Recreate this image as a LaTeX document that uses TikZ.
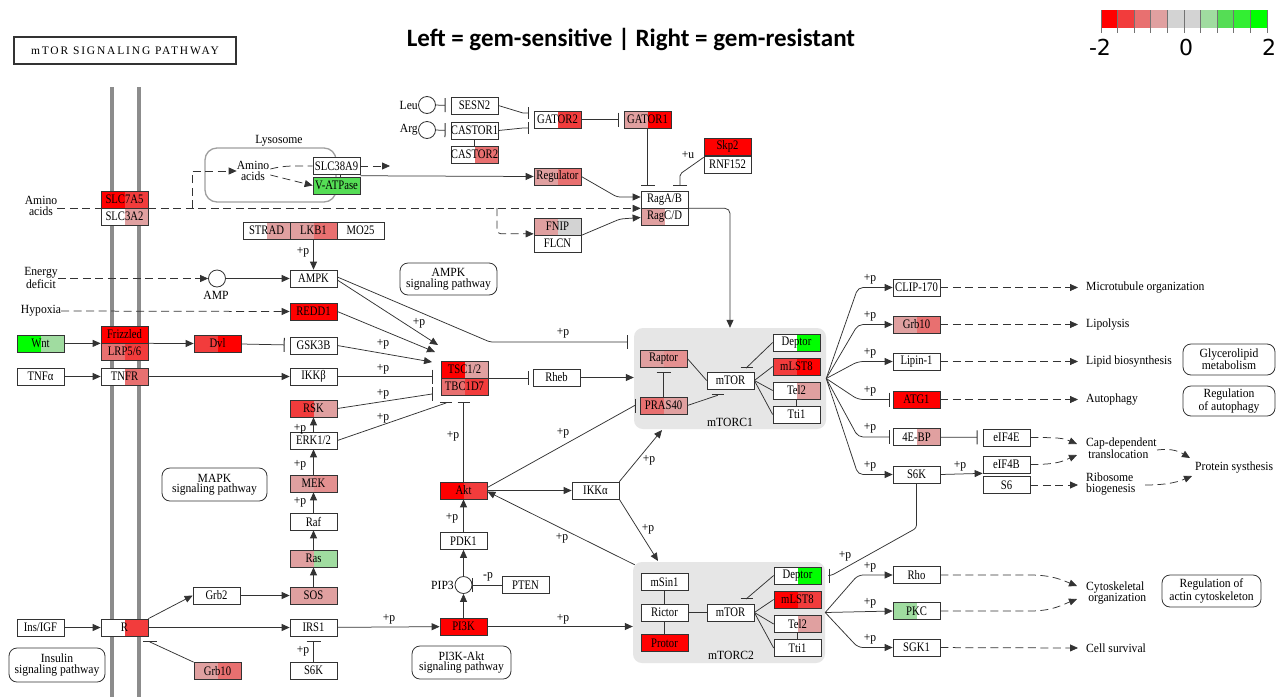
\documentclass[tikz,border=0pt]{standalone}
\usepackage{fontspec}
\setmainfont{Liberation Serif}
\newfontfamily\gfont[FakeStretch=0.82]{Liberation Serif}
\newfontfamily\tfont[FakeStretch=0.93]{Liberation Serif}
\newfontfamily\titlefont{Carlito}
\newfontfamily\legfont{DejaVu Sans}
\newfontfamily\spacedfont[LetterSpace=16]{Liberation Serif}
\usetikzlibrary{arrows.meta,calc}
\definecolor{cA}{HTML}{FF0000}
\definecolor{cB}{HTML}{F23C3C}
\definecolor{cC}{HTML}{E87070}
\definecolor{cD}{HTML}{E0A0A0}
\definecolor{cE}{HTML}{E49090}
\definecolor{cN}{HTML}{D3D3D3}
\definecolor{gD}{HTML}{A0DCA0}
\definecolor{gC}{HTML}{55DD55}
\definecolor{gB}{HTML}{33EE33}
\definecolor{gA}{HTML}{00FF00}
\definecolor{memb}{HTML}{8C8C8C}
\definecolor{cplx}{HTML}{E6E6E6}
\definecolor{lnc}{HTML}{333333}
\tikzset{
  wg/.style={draw=lnc, line width=0.7pt, fill=white, minimum width=47pt, minimum height=17pt, inner sep=0pt, font=\gfont\fontsize{13}{13}\selectfont},
  gene/.style 2 args={wg,
    path picture={\fill[#1] (path picture bounding box.south west) rectangle (path picture bounding box.north);
                  \fill[#2] (path picture bounding box.south) rectangle (path picture bounding box.north east);}},
  txt/.style={inner sep=0pt, align=center, font=\tfont\fontsize{12.5}{10.5}\selectfont},
  ltxt/.style={inner sep=0pt, align=left, anchor=west, font=\tfont\fontsize{12.5}{11.5}\selectfont},
  plab/.style={inner sep=0pt, font=\tfont\fontsize{12.5}{13}\selectfont},
  pbox/.style={draw=lnc, line width=0.8pt, rounded corners=8pt, align=center, inner sep=0pt, font=\tfont\fontsize{12.5}{10.5}\selectfont},
  cpd/.style={circle, draw=lnc, line width=0.8pt, fill=white, minimum size=17pt, inner sep=0pt},
  ln/.style={draw=lnc, line width=0.75pt},
  arr/.style={ln, -{Triangle[length=8pt,width=7pt]}},
  inh/.style={ln, -{Bar[width=14pt,line width=1pt]}},
  inhs/.style={ln, -{Bar[width=12pt,line width=1pt]}},
  dsh/.style={ln, dash pattern=on 8pt off 4.5pt},
  darr/.style={dsh, -{Triangle[length=8pt,width=7pt]}},
}
\begin{document}
\begin{tikzpicture}[x=1pt,y=-1pt]
\fill[white] (0,0) rectangle (1288,697);
\useasboundingbox (0,0) rectangle (1288,697);

% ---------- header, title, legend
\node[draw=lnc, line width=1.6pt, minimum width=222pt, minimum height=27pt, inner sep=0pt, font=\spacedfont\fontsize{11.5}{12}\selectfont] (hdr) at (125,50.5) {mTOR SIGNALING PATHWAY};
\node[inner sep=0pt, font=\titlefont\bfseries\fontsize{25}{28}\selectfont] (ttl) at (631,39) {Left = gem-sensitive | Right = gem-resistant};
\foreach \c [count=\i from 0] in {cA,cB,cC,cD,cN,cN,gD,gC,gB,gA}
  \fill[\c] ({1101+\i*16.6},10) rectangle ({1101+(\i+1)*16.6},28);
\foreach \i in {0,...,10}
  \draw[black!55, line width=0.8pt] ({1101+\i*16.6},10) -- ({1101+\i*16.6},33);
\node[inner sep=0pt, font=\legfont\fontsize{22}{24}\selectfont] (lg1) at (1100,47) {-2};
\node[inner sep=0pt, font=\legfont\fontsize{22}{24}\selectfont] (lg2) at (1186,47) {0};
\node[inner sep=0pt, font=\legfont\fontsize{22}{24}\selectfont] (lg3) at (1269,47) {2};

% ---------- membranes
\draw[memb, line width=4pt] (112,87) -- (112,697);
\draw[memb, line width=4pt] (139,87) -- (139,697);

% ---------- complexes
\node[fill=cplx, rounded corners=9pt, minimum width=192pt, minimum height=101pt, inner sep=0pt] (C1) at (730,378.5) {};
\node[fill=cplx, rounded corners=9pt, minimum width=192pt, minimum height=101pt, inner sep=0pt] (C2) at (729,612.5) {};
\node[plab] (C1l) at (730,422) {mTORC1};
\node[plab] (C2l) at (731,655) {mTORC2};

% ---------- lysosome
\node[draw=gray!75, line width=1.3pt, rounded corners=12pt, fill=white, minimum width=131pt, minimum height=54pt, inner sep=0pt] (lys) at (270.5,175) {};
\node[plab] (lysl) at (279,141) {Lysosome};
\node[txt] (aa1) at (253,171) {Amino\\acids};

% ---------- pathway boxes
\node[pbox, minimum width=97pt, minimum height=32pt] (pAMPK) at (448.5,279) {AMPK\\signaling pathway};
\node[pbox, minimum width=105pt, minimum height=33pt] (pMAPK) at (214.5,484.5) {MAPK\\signaling pathway};
\node[pbox, minimum width=96pt, minimum height=34pt] (pINS) at (57,665) {Insulin\\signaling pathway};
\node[pbox, minimum width=99pt, minimum height=33pt] (pPI3K) at (461.5,662.5) {PI3K-Akt\\signaling pathway};
\node[pbox, minimum width=92pt, minimum height=31pt] (pGLY) at (1229,359.5) {Glycerolipid\\metabolism};
\node[pbox, minimum width=92pt, minimum height=30pt] (pAUT) at (1229,401) {Regulation\\of autophagy};
\node[pbox, minimum width=99pt, minimum height=32pt] (pACT) at (1211.5,591) {Regulation of\\actin cytoskeleton};

% ---------- free texts
\node[txt] (aa0) at (41,206) {Amino\\acids};
\node[txt] (ed) at (41,278) {Energy\\deficit};
\node[txt] (hyp) at (41,311) {Hypoxia};
\node[cpd] (amp) at (217,278.5) {};
\node[plab] (ampl) at (216,295) {AMP};
\node[cpd] (leu) at (427,105) {};
\node[plab, anchor=east] (leul) at (418,105) {Leu};
\node[cpd] (arg) at (427,130) {};
\node[plab, anchor=east] (argl) at (418,130) {Arg};
\node[cpd] (pip3) at (463.5,585) {};
\node[plab, anchor=east] (pip3l) at (454,585) {PIP3};

\node[ltxt] (mto) at (1086,287.5) {Microtubule organization};
\node[ltxt] (lipo) at (1086,324.5) {Lipolysis};
\node[ltxt] (lbio) at (1086,361.5) {Lipid biosynthesis};
\node[ltxt] (auto) at (1086,399.5) {Autophagy};
\node[ltxt] (capd) at (1086,448) {Cap-dependent\\\,translocation};
\node[ltxt] (ribo) at (1086,484) {Ribosome\\biogenesis};
\node[ltxt] (psyn) at (1195,468) {Protein systhesis};
\node[ltxt] (cyto) at (1086,593) {Cytoskeletal\\\,organization};
\node[ltxt] (csur) at (1086,648) {Cell survival};

% ---------- genes: left column
\node[gene={cA}{cB}] (SLC7A5) at (124.5,199.5) {SLC7A5};
\node[gene={white}{cD}] (SLC3A2) at (124.5,216.5) {SLC3A2};
\node[gene={cA}{cA}] (Fzd) at (124.5,334.5) {Frizzled};
\node[gene={cC}{cB}] (LRP) at (124.5,351.5) {LRP5/6};
\node[gene={white}{cC}] (TNFR) at (124.5,376.5) {TNFR};
\node[gene={white}{cB}] (R) at (124.5,627.5) {R};
\node[gene={gA}{gD}] (Wnt) at (40.5,343.5) {Wnt};
\node[wg] (TNFa) at (40.5,376.5) {TNFα};
\node[wg] (InsIGF) at (40.5,627.5) {Ins/IGF};
\node[gene={cB}{cA}] (Dvl) at (217.5,343.5) {Dvl};
\node[wg] (Grb2) at (216.5,595.5) {Grb2};
\node[gene={cD}{cC}] (Grb10l) at (217.5,671) {Grb10};

% ---------- genes: middle column
\node[gene={white}{cD}] (STRAD) at (266.5,230.5) {STRAD};
\node[gene={cD}{cC}] (LKB1) at (313.5,230.5) {LKB1};
\node[wg] (MO25) at (360.5,230.5) {MO25};
\node[wg] (AMPK) at (313.5,278.5) {AMPK};
\node[gene={cA}{cA}] (REDD1) at (313.5,311.5) {REDD1};
\node[wg] (GSK3B) at (313.5,345.5) {GSK3B};
\node[wg] (IKKb) at (313.5,376.5) {IKKβ};
\node[gene={cB}{cD}] (RSK) at (313.5,408.5) {RSK};
\node[wg] (ERK) at (313.5,440.5) {ERK1/2};
\node[gene={cD}{cE}] (MEK) at (313.5,483.5) {MEK};
\node[wg] (Raf) at (313.5,521.5) {Raf};
\node[gene={cD}{gD}] (Ras) at (313.5,558.5) {Ras};
\node[gene={cD}{cD}] (SOS) at (313.5,595.5) {SOS};
\node[wg] (IRS1) at (313.5,627.5) {IRS1};
\node[wg] (S6Kl) at (313.5,670.5) {S6K};

% ---------- genes: lysosome / amino acid sensing
\node[wg] (SLC38A9) at (336.5,166) {SLC38A9};
\node[gene={gC}{gC}] (VATP) at (336.5,185.5) {V-ATPase};
\node[wg] (SESN2) at (474.5,105.5) {SESN2};
\node[wg] (CASTOR1) at (474.5,130.5) {CASTOR1};
\node[gene={white}{cC}] (CASTOR2) at (474.5,154.5) {CASTOR2};
\node[gene={white}{cB}] (GATOR2) at (557.5,119.5) {GATOR2};
\node[gene={cD}{cA}] (GATOR1) at (647.5,119.5) {GATOR1};
\node[gene={cD}{cC}] (Regulator) at (557.5,176.5) {Regulator};
\node[gene={cD}{cN}] (FNIP) at (557.5,226.5) {FNIP};
\node[wg] (FLCN) at (557.5,243.5) {FLCN};
\node[wg] (RagAB) at (664.5,199.5) {RagA/B};
\node[gene={cD}{white}] (RagCD) at (664.5,216.5) {RagC/D};
\node[gene={cA}{cA}] (Skp2) at (727.5,146.5) {Skp2};
\node[wg] (RNF152) at (727.5,164.5) {RNF152};

% ---------- genes: TSC / Akt
\node[gene={cA}{cD}] (TSC12) at (464.5,369.5) {TSC1/2};
\node[gene={cC}{cB}] (TBC1D7) at (464.5,386.5) {TBC1D7};
\node[wg] (Rheb) at (556.5,377.5) {Rheb};
\node[gene={cA}{cB}] (Akt) at (463.5,490.5) {Akt};
\node[wg] (PDK1) at (463.5,541) {PDK1};
\node[gene={cA}{cA}] (PI3K) at (463.5,626.5) {PI3K};
\node[wg] (PTEN) at (525.5,585) {PTEN};
\node[wg] (IKKa) at (595.5,490.5) {IKKα};

% ---------- mTORC1
\node[gene={cD}{cE}] (Raptor) at (663.5,358.5) {Raptor};
\node[gene={cC}{cD}] (PRAS40) at (663.5,405.5) {PRAS40};
\node[wg] (mTOR1) at (730.5,380.5) {mTOR};
\node[gene={white}{gA}] (Deptor1) at (796.5,342.5) {Deptor};
\node[gene={cB}{cA}] (mLST81) at (796.5,366.5) {mLST8};
\node[gene={white}{cD}] (Tel21) at (796.5,390.5) {Tel2};
\node[wg] (Tti11) at (796.5,414.5) {Tti1};

% ---------- mTORC2
\node[wg] (mSin1) at (664.5,582) {mSin1};
\node[wg] (Rictor) at (664.5,612.5) {Rictor};
\node[gene={cA}{cA}] (Protor) at (664.5,643) {Protor};
\node[wg] (mTOR2) at (730.5,612.5) {mTOR};
\node[gene={white}{gA}] (Deptor2) at (797.5,575.5) {Deptor};
\node[gene={cA}{cB}] (mLST82) at (797.5,599.5) {mLST8};
\node[gene={white}{cD}] (Tel22) at (797.5,624) {Tel2};
\node[wg] (Tti12) at (797.5,648) {Tti1};

% ---------- right targets
\node[wg] (CLIP) at (916.5,287.5) {CLIP-170};
\node[gene={cD}{cC}] (Grb10r) at (916.5,324.5) {Grb10};
\node[wg] (Lipin) at (916.5,361.5) {Lipin-1};
\node[gene={cA}{cA}] (ATG1) at (916.5,399.5) {ATG1};
\node[gene={white}{cD}] (EBP) at (916.5,437) {4E-BP};
\node[wg] (S6Kr) at (916.5,474.5) {S6K};
\node[wg] (eIF4E) at (1006.5,437.5) {eIF4E};
\node[wg] (eIF4B) at (1006.5,464.5) {eIF4B};
\node[wg] (S6) at (1006.5,485) {S6};
\node[wg] (Rho) at (916.5,575) {Rho};
\node[gene={gD}{white}] (PKC) at (916.5,611) {PKC};
\node[wg] (SGK1) at (916.5,647.5) {SGK1};

% ---------- coordinates
\coordinate (b1) at (192,208);
\coordinate (b2) at (497,208);
\coordinate (s38e) at (390,166);
\coordinate (r1) at (617,197);
\coordinate (fl1) at (620,219);
\coordinate (sk1) at (680,174);
\coordinate (tA) at (438,345);
\coordinate (tB) at (435,352);
\coordinate (tC) at (432,362);
\coordinate (tD) at (433,394);
\coordinate (tE) at (446,402);
\coordinate (am1) at (490,342);
\coordinate (rb) at (150,641);
\coordinate (ia) at (662,430);
\coordinate (c2t) at (658,561);
\coordinate (fx) at (858,0);
\coordinate (sk6) at (918,528);
\coordinate (cp1) at (1077,444);
\coordinate (cp2) at (1077,455);
\coordinate (cps) at (1157,450);
\coordinate (ps1) at (1190,458);
\coordinate (rp1) at (1145,485);
\coordinate (ps2) at (1192,476);
\coordinate (rh1) at (1030,575);
\coordinate (pk1) at (1030,611);
\coordinate (cy1) at (1077,586);
\coordinate (cy2) at (1077,599);

% ---------- amino acid sensing
\draw[dsh] (aa0.east |- SLC7A5.south west) -- (SLC7A5.south west);
\draw[darr] (SLC7A5.south east) -- (RagAB.south west);
\draw[darr] (b1) |- (aa1.west);
\draw[darr, rounded corners=4pt] (b2) |- ($(FNIP.south west)+(0,-1.5)$);
\draw[dsh] ($(aa1.east)+(1,-2)$) .. controls +(15,-4) and +(-15,0) .. (SLC38A9.west);
\draw[darr] ($(aa1.east)+(1,4)$) -- (VATP.west);
\draw[darr] (SLC38A9.east) -- (s38e);
\draw[ln] ($(SLC38A9.south)+(4,0)$) -- ($(VATP.north)+(4,0)$);
\draw[arr] ($(SLC38A9.south east)!0.5!(VATP.north east)$) -- (Regulator.west);
\draw[arr, rounded corners=3pt] (Regulator.east) -- (r1) -- ($(RagAB.west)+(0,-2.5)$);
\draw[arr, rounded corners=3pt] (FNIP.south east) -- (fl1) -- ($(RagCD.west)+(0,1)$);
\draw[inh, shorten >=5pt] (leu) -- (SESN2);
\draw[inh, shorten >=5pt] (arg) -- (CASTOR1);
\draw[ln] (CASTOR1.south) -- (CASTOR2.north);
\draw[inhs] (SESN2.east) -- (523,113) -- (529,113);
\draw[inhs] (CASTOR1.east) -- (523,128) -- (529,128);
\draw[inh, shorten >=5pt] (GATOR2) -- (GATOR1);
\draw[inh, shorten >=5pt] (GATOR1.south) -- (GATOR1.south |- RagAB.north);
\draw[inh, shorten >=5pt, rounded corners=2pt] ($(Skp2.south west)+(0,2)$) -- (sk1) -- (sk1 |- RagAB.north);
\node[plab] (pu) at (688,155) {+u};
\draw[arr, rounded corners=5pt] (RagAB.south east) -| (C1.north);

% ---------- AMPK, REDD1, Wnt, TNF
\draw[arr] (LKB1.south) -- (AMPK.north);
\node[plab] (p1) at (303,252) {+p};
\draw[darr] (ed.east |- amp.west) -- (amp.west);
\draw[arr] (amp) -- (AMPK);
\draw[arr] ($(AMPK.east)+(0,1.5)$) -- (tA);
\node[plab] (p2) at (419,323) {+p};
\draw[inh, rounded corners=2pt, shorten >=6pt] ($(AMPK.east)+(0,-1.5)$) -- (am1) -- (am1 -| C1.west);
\node[plab] (p3) at (563,333) {+p};
\draw[darr] (hyp.east) -- (REDD1.west);
\draw[arr] (REDD1.east) -- (tB);
\draw[arr] (Wnt.east) -- (Fzd.south west);
\draw[arr] (Fzd.south east) -- (Dvl.west);
\draw[inh, shorten >=5pt] (Dvl) -- (GSK3B);
\draw[arr] (GSK3B.east) -- (tC);
\node[plab] (p4) at (383,344) {+p};
\draw[arr] (TNFa) -- (TNFR);
\draw[arr] (TNFR) -- (IKKb);
\draw[inh, shorten >=8pt] (IKKb.east) -- (IKKb.east -| TSC12.west);
\node[plab] (p5) at (383,369) {+p};
\draw[inh] (RSK.east) -- ($(tD)+(-1,0)$) -- (tD);
\node[plab] (p6) at (383,394) {+p};
\draw[inhs] (ERK.east) -- ($(tE)+(0,1)$) -- (tE);
\node[plab] (p7) at (383,418) {+p};
\draw[inhs] (Akt.north) -- ++(0,-80);
\node[plab] (p8) at (453,436) {+p};
\draw[inh, shorten >=4pt] (TSC12.south east) -- (TSC12.south east -| Rheb.west);
\draw[arr] (Rheb.east) -- (Rheb.east -| C1.west);

% ---------- MAPK / insulin
\draw[arr] (ERK) -- (RSK);
\node[plab] (p9) at (300,429) {+p};
\draw[arr] (MEK) -- (ERK);
\node[plab] (p10) at (300,465) {+p};
\draw[arr] (Raf) -- (MEK);
\node[plab] (p11) at (300,502) {+p};
\draw[arr] (Ras) -- (Raf);
\draw[arr] (SOS) -- (Ras);
\draw[arr] (Grb2) -- (SOS);
\draw[arr] (R.north east) -- (Grb2.west);
\draw[arr] (R) -- (IRS1);
\draw[arr] (InsIGF) -- (R);
\draw[inh] (Grb10l.north west) -- ($(rb)+(0,1)$) -- (rb);
\draw[inh, shorten >=5pt] (S6Kl) -- (IRS1);
\node[plab] (p12) at (303,651) {+p};
\draw[arr] (IRS1) -- (PI3K);
\node[plab] (p13) at (389,619) {+p};
\draw[arr] (PI3K) -- (pip3);
\draw[arr] (pip3) -- (PDK1);
\draw[arr] (PDK1) -- (Akt);
\node[plab] (p14) at (452,518) {+p};
\draw[inh] (PTEN) -- (pip3);
\node[plab] (mp) at (488,577) {-p};

% ---------- Akt outputs
\draw[arr] (Akt) -- (IKKa);
\draw[arr] (IKKa.north east) -- (ia);
\node[plab] (p15) at (649,460) {+p};
\draw[inh] ($(Akt.east)+(0,-3)$) -- ($(PRAS40.west)+(-5,0)$) -- ($(PRAS40.west)+(-4,0)$);
\node[plab] (p16) at (563,433) {+p};
\draw[arr] ($(C2.north west)+(2,3)$) -- ($(Akt.east)+(0,1)$);
\node[plab] (p17) at (562,538) {+p};
\draw[arr] (IKKa.south east) -- (c2t);
\node[plab] (p18) at (648,529) {+p};
\draw[arr] (PI3K) -- (PI3K -| C2.west);
\node[plab] (p19) at (563,619) {+p};

% ---------- mTORC1 internals
\draw[ln] (Raptor.east) -- (mTOR1.west);
\draw[inh, shorten >=5pt] (PRAS40.north) -- (Raptor.south);
\draw[inhs] (PRAS40.east) -- ($(mTOR1.south)+(-13,6)$) -- ($(mTOR1.south)+(-13,5)$);
\draw[inhs] (Deptor1.west) -- ($(mTOR1.north)+(16,-4)$) -- ($(mTOR1.north)+(16,-5)$);
\draw[ln] (mTOR1.east) -- (mLST81.west);
\draw[ln] (mTOR1.east) -- (Tel21.west);
\draw[ln] (mTOR1.east) -- (Tti11.west);
\draw[ln] (Tel21.south) -- (Tti11.north);

% ---------- mTORC2 internals
\draw[ln] (mSin1.south) -- (Rictor.north);
\draw[ln] (Rictor.south) -- (Protor.north);
\draw[ln] (Rictor) -- (mTOR2);
\draw[inhs] (Deptor2.west) -- ($(mTOR2.north)+(16,-5)$) -- ($(mTOR2.north)+(16,-6)$);
\draw[ln] (mTOR2.east) -- (mLST82.west);
\draw[ln] (mTOR2.east) -- (Tel22.west);
\draw[ln] (mTOR2.east) -- (Tti12.west);
\draw[ln] (Tel22.south) -- (Tti12.north);

% ---------- mTORC1 fan
\draw[arr, rounded corners=5pt] (C1.east) -- (CLIP.west -| fx) -- (CLIP.west);
\draw[arr, rounded corners=5pt] (C1.east) -- (Grb10r.west -| fx) -- (Grb10r.west);
\draw[arr, rounded corners=5pt] (C1.east) -- (Lipin.west -| fx) -- (Lipin.west);
\draw[inh, rounded corners=5pt, shorten >=3pt] (C1.east) -- (ATG1.west -| fx) -- (ATG1.west);
\draw[inh, rounded corners=5pt, shorten >=3pt] (C1.east) -- (EBP.west -| fx) -- (EBP.west);
\draw[arr, rounded corners=5pt] (C1.east) -- (S6Kr.west -| fx) -- (S6Kr.west);
\node[plab] (f1) at (870,279) {+p};
\node[plab] (f2) at (870,316) {+p};
\node[plab] (f3) at (870,353) {+p};
\node[plab] (f4) at (870,391) {+p};
\node[plab] (f5) at (870,428) {+p};
\node[plab] (f6) at (870,466) {+p};

% ---------- mTORC2 fan
\draw[arr, rounded corners=5pt] (C2.east) -- (Rho.west -| fx) -- (Rho.west);
\draw[arr] (C2.east) -- (PKC.west);
\draw[arr, rounded corners=5pt] (C2.east) -- (SGK1.west -| fx) -- (SGK1.west);
\node[plab] (f7) at (870,567) {+p};
\node[plab] (f8) at (870,603) {+p};
\node[plab] (f9) at (870,639) {+p};

% ---------- S6K, 4E-BP
\draw[inh, rounded corners=3pt] (S6Kr.south) -- (S6Kr.south |- sk6) -- ($(Deptor2.east)+(10,0)$) -- ($(Deptor2.east)+(9,0)$);
\node[plab] (p20) at (845,556) {+p};
\draw[arr] (S6Kr.east) -- (eIF4B.south west);
\node[plab] (p21) at (960,466) {+p};
\draw[inh, shorten >=5pt] (EBP) -- (eIF4E);

% ---------- phenotypes
\draw[darr, shorten >=8pt] (CLIP) -- (mto.west);
\draw[darr, shorten >=8pt] (Grb10r) -- (lipo.west);
\draw[darr, shorten >=8pt] (Lipin) -- (lbio.west);
\draw[darr, shorten >=8pt] (ATG1) -- (auto.west);
\draw[darr] (eIF4E.east) .. controls +(28,0) and +(-14,-6) .. (cp1);
\draw[darr] (eIF4B.east) .. controls +(28,0) and +(-14,6) .. (cp2);
\draw[darr, shorten >=8pt] (S6) -- (ribo.west |- S6.east);
\draw[darr] (cps) .. controls +(16,-2) and +(-10,-6) .. (ps1);
\draw[darr] (rp1) .. controls +(25,0) and +(-12,5) .. (ps2);
\draw[darr] (Rho.east) -- (rh1) .. controls +(22,0) and +(-15,-6) .. (cy1);
\draw[darr] (PKC.east) -- (pk1) .. controls +(22,0) and +(-15,6) .. (cy2);
\draw[darr, shorten >=8pt] (SGK1) -- (csur.west);
\end{tikzpicture}
\end{document}
